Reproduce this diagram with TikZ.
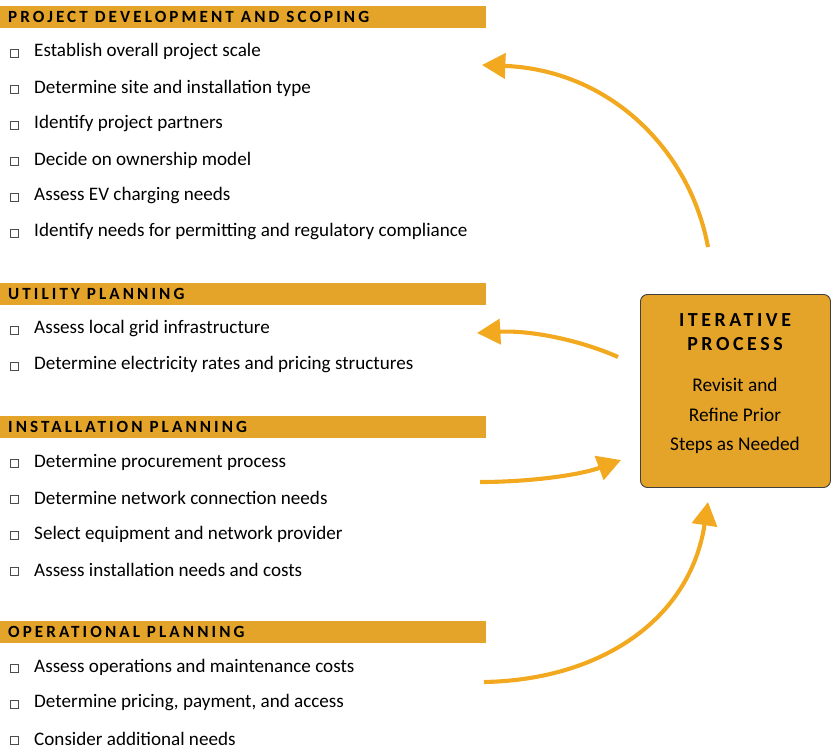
\documentclass[tikz,border=0pt]{standalone}
\usepackage{fontspec}
\setmainfont{Carlito}
\usetikzlibrary{arrows.meta, calc}
\definecolor{gold}{HTML}{E4A42A}
\definecolor{arrowc}{HTML}{F2A91F}
\tikzset{
  header/.style = {fill=gold, minimum width=14.58cm, minimum height=0.66cm,
    inner sep=0pt, anchor=north west},
  headtext/.style = {anchor=west, font=\bfseries\fontsize{14.6}{14}\selectfont},
  item/.style = {anchor=west, inner sep=0pt, font=\fontsize{16.3}{16}\selectfont},
  tick/.style = {draw=black!70, minimum size=0.24cm, inner sep=0pt, line width=0.4pt},
  iter/.style = {arrowc, line width=3.5pt, -{Triangle[length=0.7cm,width=0.75cm]}}
}
\newcommand{\spaced}[1]{\addfontfeature{LetterSpace=18}#1}
\begin{document}
\begin{tikzpicture}[x=0.03cm, y=-0.03cm]
\useasboundingbox (0,0) rectangle (835,752);

% headers
\foreach \name/\ypos/\title in {hA/6/PROJECT DEVELOPMENT AND SCOPING, hB/283/UTILITY PLANNING,
    hC/416/INSTALLATION PLANNING, hD/621/OPERATIONAL PLANNING} {
  \node[header] (\name) at (0,\ypos) {};
  \node[headtext] at ($(\name.west)+(4,0)$) {\spaced{\title}};
}

% items
\foreach \ypos/\txt [count=\i] in {
    52/Establish overall project scale,
    88/Determine site and installation type,
    124/Identify project partners,
    160/Decide on ownership model,
    196/Assess EV charging needs,
    232/Identify needs for permitting and regulatory compliance,
    329/Assess local grid infrastructure,
    365/Determine electricity rates and pricing structures,
    462/Determine procurement process,
    498/Determine network connection needs,
    534/Select equipment and network provider,
    570/Assess installation needs and costs,
    667/Assess operations and maintenance costs,
    703/{Determine pricing, payment, and access},
    739/Consider additional needs} {
  \node[tick] (b\i) at (14,\ypos+1) {};
  \node[item] (t\i) at (34,\ypos) {\txt};
}

% iterative box
\node[draw=black!75, fill=gold, rounded corners=6pt, line width=0.8pt,
  minimum width=5.7cm, minimum height=5.79cm, align=center, text width=5cm,
  anchor=north west] (iter) at (640,294) {};
\node[font=\bfseries\fontsize{17}{20.5}\selectfont, align=center] (iterT) at (735,332)
  {\spaced{ITERATIVE}\\\spaced{PROCESS}};
\node[font=\fontsize{16.5}{25}\selectfont, align=center] (iterS) at (735,416)
  {Revisit and\\Refine Prior\\Steps as Needed};

% arrows
\coordinate (a1s) at (708,247); \coordinate (a1e) at (482,65);
\coordinate (a2s) at (618,357); \coordinate (a2e) at (477,333);
\coordinate (a3s) at (480,482); \coordinate (a3e) at (621,460);
\coordinate (a4s) at (484,682); \coordinate (a4e) at (708,502);
\draw[iter] (a1s) .. controls (690,150) and (610,70) .. (a1e);
\draw[iter] (a2s) .. controls (580,340) and (530,330) .. (a2e);
\draw[iter] (a3s) .. controls (530,482) and (580,475) .. (a3e);
\draw[iter] (a4s) .. controls (600,680) and (690,620) .. (a4e);
\end{tikzpicture}
\end{document}
